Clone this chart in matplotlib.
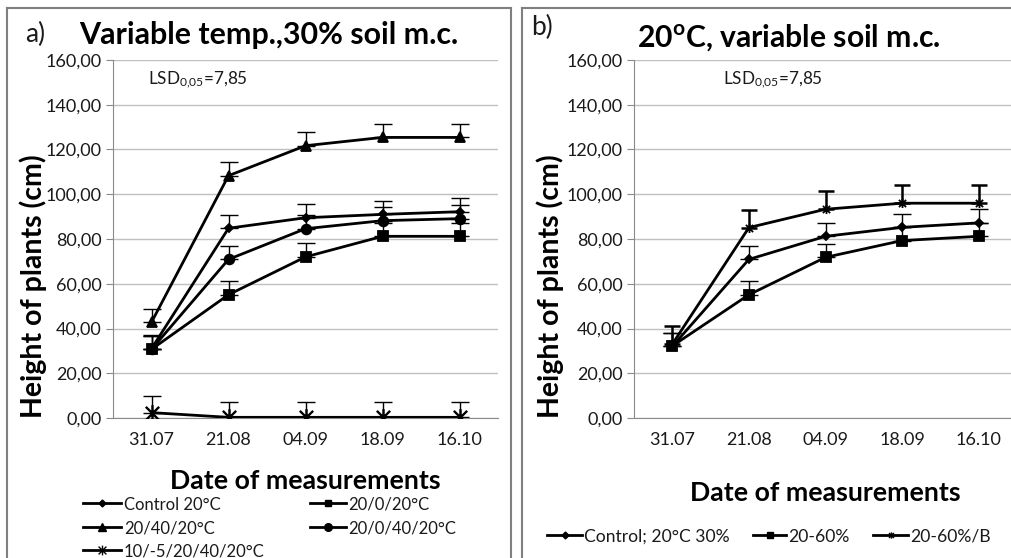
import matplotlib
matplotlib.use("Agg")
import matplotlib.pyplot as plt
from matplotlib.path import Path
from matplotlib.lines import Line2D

plt.rcParams['font.family'] = ['Lato', 'DejaVu Sans']
plt.rcParams['mathtext.fontset'] = 'custom'
plt.rcParams['mathtext.rm'] = 'Lato'
plt.rcParams['mathtext.it'] = 'Lato:italic'
plt.rcParams['mathtext.bf'] = 'Lato:bold'

# ---------------- data ----------------
dates = ['31.07', '21.08', '04.09', '18.09', '16.10']
yticks = [0, 20, 40, 60, 80, 100, 120, 140, 160]
ytick_labels = ['0,00', '20,00', '40,00', '60,00', '80,00', '100,00', '120,00', '140,00', '160,00']

a_labels = ['Control 20°C', '20/0/20°C', '20/40/20°C', '20/0/40/20°C', '10/-5/20/40/20°C']
a_control = [31.0, 84.8, 89.5, 91.0, 92.2]
a_20_0_20 = [30.7, 55.1, 72.0, 81.2, 81.2]
a_20_40_20 = [42.8, 108.3, 121.7, 125.4, 125.4]
a_20_0_40_20 = [30.7, 70.9, 84.6, 88.2, 89.1]
a_10_m5 = [2.4, 0.3, 0.3, 0.3, 0.3]
a_err_control = [6, 6, 6, 6, 6]
a_err_20_0_20 = [6, 6, 6, 6, 6]
a_err_20_40_20 = [6, 6, 6, 6, 6]
a_err_20_0_40_20 = [6, 6, 6, 6, 6]
a_err_10_m5 = [7.4, 7.0, 7.0, 7.0, 7.0]

b_labels = ['Control; 20°C 30%', '20-60%', '20-60%/B']
b_control = [32.0, 70.9, 81.2, 85.2, 87.2]
b_20_60 = [32.2, 55.1, 71.8, 79.3, 81.2]
b_20_60B = [33.0, 85.1, 93.3, 96.0, 96.0]
b_err_control = [6, 6, 6, 6, 6]
b_err_20_60 = [6, 6, 6, 6, 6]
b_err_20_60B = [8, 8, 8, 8, 8]

lsd_text = 'LSD$_{\\mathrm{0{,}05}}$=7,85'

# ---------------- style ----------------
W, H = 1011, 558
fig = plt.figure(figsize=(W / 100, H / 100), dpi=100)

asterisk = Path([(-1, -1), (1, 1), (-1, 1), (1, -1), (0, -1.25), (0, 1.25)],
                [Path.MOVETO, Path.LINETO, Path.MOVETO, Path.LINETO, Path.MOVETO, Path.LINETO])

GRID = '#c0c0c0'
AXC = '#8a8a8a'
TXT = '#1a1a1a'
TICKFS = 13


def fx(px):
    return px / W


def fy(py):
    return 1 - py / H


def setup_axes(ax, ylab_x):
    ax.set_ylim(0, 160)
    ax.set_yticks(yticks)
    ax.set_yticklabels(ytick_labels)
    ax.set_xticks(range(len(dates)))
    ax.set_xticklabels(dates)
    ax.grid(axis='y', color=GRID, linewidth=1.0)
    ax.set_axisbelow(True)
    for s in ['top', 'right']:
        ax.spines[s].set_visible(False)
    ax.spines['left'].set_color(AXC)
    ax.spines['bottom'].set_color(AXC)
    ax.tick_params(axis='y', length=5, color=AXC, labelsize=TICKFS, labelcolor=TXT, pad=3)
    ax.tick_params(axis='x', length=0, labelsize=TICKFS, labelcolor=TXT, pad=10)
    ax.set_ylabel('Height of plants (cm)', fontsize=20.5, fontweight='bold', va='center')
    ax.yaxis.set_label_coords(ylab_x, 0.369)


def plot_series(ax, y, err, marker, ms, label, elw=1.0, cap=6.5, mew=1.3):
    x = list(range(len(y)))
    ax.errorbar(x, y, yerr=[[0] * len(err), err], fmt='none', ecolor='black',
                elinewidth=elw, capsize=cap, capthick=elw, zorder=2)
    ax.plot(x, y, color='black', linewidth=2.0, marker=marker, markersize=ms,
            markerfacecolor='black', markeredgecolor='black', markeredgewidth=mew,
            label=label, zorder=3)


def legend_item(x0, x1, xt, y, marker, ms, label, fs):
    fig.add_artist(Line2D([fx(x0), fx(x1)], [fy(y), fy(y)], color='black',
                          linewidth=2.0, transform=fig.transFigure))
    fig.add_artist(Line2D([fx((x0 + x1) / 2)], [fy(y)], color='black', marker=marker,
                          markersize=ms, markerfacecolor='black', markeredgecolor='black',
                          markeredgewidth=1.0, transform=fig.transFigure))
    fig.text(fx(xt), fy(y), label, fontsize=fs, ha='left', va='center_baseline', color=TXT)


# ---------------- panel a ----------------
ax1 = fig.add_axes([fx(113), fy(418), fx(498) - fx(113), fy(60) - fy(418)])
ax1.set_xlim(-0.5, 4.5)
setup_axes(ax1, (33 - 113) / 385)
plot_series(ax1, a_control, a_err_control, 'D', 4.5, a_labels[0])
plot_series(ax1, a_20_0_20, a_err_20_0_20, 's', 6.5, a_labels[1])
plot_series(ax1, a_20_40_20, a_err_20_40_20, '^', 7.5, a_labels[2])
plot_series(ax1, a_20_0_40_20, a_err_20_0_40_20, 'o', 7, a_labels[3])
plot_series(ax1, a_10_m5, a_err_10_m5, asterisk, 12, a_labels[4], mew=1.7)
ax1.set_xlabel('Date of measurements', fontsize=19.2, fontweight='bold', labelpad=15)
ax1.text(fx(148), fy(80), lsd_text, transform=fig.transFigure, fontsize=12.3,
         ha='left', va='center', color=TXT)

LA = 12
legend_item(83, 121, 124, 503, 'D', 3.5, a_labels[0], LA)
legend_item(310, 346, 348, 503, 's', 5, a_labels[1], LA)
legend_item(83, 121, 124, 527, '^', 5.5, a_labels[2], LA)
legend_item(310, 346, 348, 527, 'o', 5.5, a_labels[3], LA)
legend_item(83, 121, 124, 550, asterisk, 7, a_labels[4], LA)

# ---------------- panel b ----------------
bw = 5 * 76.6
ax2 = fig.add_axes([fx(634), fy(418), bw / W, fy(60) - fy(418)])
ax2.set_xlim(-0.5, 4.5)
setup_axes(ax2, (550 - 634) / bw)
plot_series(ax2, b_control, b_err_control, 'D', 4.5, b_labels[0])
plot_series(ax2, b_20_60, b_err_20_60, 's', 6.5, b_labels[1])
plot_series(ax2, b_20_60B, b_err_20_60B, asterisk, 6.5, b_labels[2], elw=1.8, cap=5.5)
ax2.set_xlabel('Date of measurements', fontsize=19.2, fontweight='bold', labelpad=24)
ax2.text(fx(723), fy(80), lsd_text, transform=fig.transFigure, fontsize=12.3,
         ha='left', va='center', color=TXT)

LB = 12.6
legend_item(547, 582, 584, 535, 'D', 3.5, b_labels[0], LB)
legend_item(753, 786, 788, 535, 's', 5, b_labels[1], LB)
legend_item(873, 908, 910, 535, asterisk, 4.5, b_labels[2], LB)

# ---------------- titles ----------------
fig.text(fx(25), fy(34), 'a)', fontsize=19, ha='left', va='center', color=TXT)
fig.text(fx(269), fy(35), 'Variable temp.,30% soil m.c.', fontsize=21.9,
         fontweight='bold', ha='center', va='center', color='black')
fig.text(fx(531), fy(27), 'b)', fontsize=19, ha='left', va='center', color=TXT)
fig.text(fx(789), fy(38), '20$^{\\mathbf{o}}$C, variable soil m.c.', fontsize=21.7,
         fontweight='bold', ha='center', va='center', color='black')

# ---------------- panel borders ----------------
BC = '#7f7f7f'
for xs, ys in [([7, 7], [8, 560]), ([7, 511], [8, 8]), ([511, 511], [8, 560]),
               ([522, 522], [8, 560]), ([522, 1015], [8, 8])]:
    fig.add_artist(Line2D([fx(v) for v in xs], [fy(v) for v in ys],
                          color=BC, linewidth=1.5, transform=fig.transFigure))

fig.savefig('out.png', dpi=100)
